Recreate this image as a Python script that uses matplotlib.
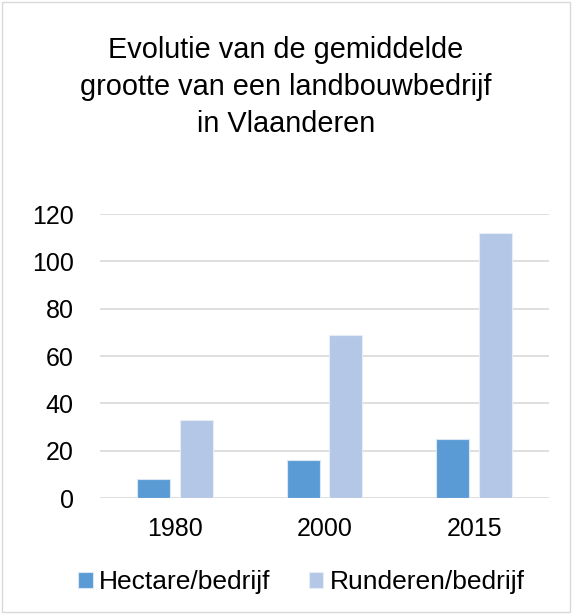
import matplotlib.pyplot as plt
import numpy as np
from matplotlib.patches import Rectangle

years = ['1980', '2000', '2015']
hectare = [8, 16, 25]
runderen = [33, 69, 112]
yticks = [0, 20, 40, 60, 80, 100, 120]

plt.rcParams['font.family'] = ['Liberation Sans', 'DejaVu Sans']

fig = plt.figure(figsize=(5.72, 6.14), dpi=100)
ax = fig.add_axes([100 / 572, 1 - 498 / 614, 449 / 572, 284 / 614])

x = np.arange(len(years))
w = 0.22
ax.bar(x - 0.143, hectare, w, color='#5B9BD5', edgecolor='#dbe6f5', linewidth=0.8,
       label='Hectare/bedrijf', zorder=3)
ax.bar(x + 0.143, runderen, w, color='#B4C7E7', edgecolor='#e6edf7', linewidth=0.8,
       label='Runderen/bedrijf', zorder=3)

ax.set_xlim(-0.5, 2.5)
ax.set_ylim(0, 120)
ax.set_yticks(yticks)
ax.set_xticks(x)
ax.set_xticklabels(years)
ax.tick_params(axis='both', length=0, labelsize=18, colors='#000000')
ax.tick_params(axis='y', pad=19)
ax.tick_params(axis='x', pad=14)
ax.yaxis.grid(True, color='#d9d9d9', linewidth=1.2, zorder=0)
for s in ax.spines.values():
    s.set_visible(False)

fig.text(0.5, 1 - 87 / 614,
         'Evolutie van de gemiddelde\ngrootte van een landbouwbedrijf\nin Vlaanderen',
         ha='center', va='center', fontsize=20.8, linespacing=1.42)

ax.legend(loc='center', bbox_to_anchor=(0.449, (498 - 582) / 284), ncol=2, frameon=False,
          fontsize=19, handlelength=0.55, handleheight=0.55, handletextpad=0.25,
          columnspacing=1.45)

fig.patches.append(Rectangle((2 / 572, 2 / 614), 568 / 572, 610 / 614, transform=fig.transFigure,
                             fill=False, edgecolor='#d9d9d9', linewidth=1))

fig.savefig('out.png', dpi=100)
